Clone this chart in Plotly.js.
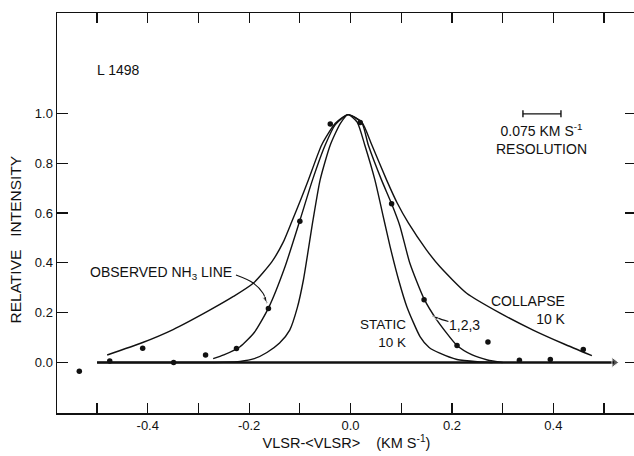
<!DOCTYPE html>
<html>
<head>
<meta charset="utf-8">
<script src="https://cdn.plot.ly/plotly-3.0.1.min.js"></script>
<style>
html,body{margin:0;padding:0;background:#fff;overflow:hidden;}
#chart{width:640px;height:456px;}
</style>
</head>
<body>
<div id="chart"></div>
<script>
// ---- data ----
const collapseX = [-0.48, -0.41, -0.35, -0.284, -0.231, -0.192, -0.155, -0.133, -0.116, -0.097, -0.083, -0.057, -0.03, -0.005, 0.022, 0.042, 0.071, 0.092, 0.114, 0.15, 0.176, 0.229, 0.295, 0.36, 0.42, 0.476];
const collapseY = [0.03, 0.08, 0.132, 0.203, 0.265, 0.318, 0.405, 0.482, 0.565, 0.66, 0.733, 0.873, 0.96, 0.995, 0.965, 0.873, 0.733, 0.64, 0.56, 0.451, 0.385, 0.278, 0.198, 0.13, 0.075, 0.027];

const observedX = [-0.271, -0.25, -0.218, -0.19, -0.162, -0.13, -0.1, -0.075, -0.05, -0.03, -0.005, 0.022, 0.035, 0.061, 0.081, 0.097, 0.117, 0.145, 0.17, 0.21, 0.24, 0.27, 0.3];
const observedY = [0.015, 0.03, 0.063, 0.12, 0.218, 0.38, 0.57, 0.733, 0.873, 0.955, 0.995, 0.963, 0.873, 0.733, 0.637, 0.55, 0.398, 0.255, 0.171, 0.068, 0.03, 0.01, 0.0];

const staticX = [-0.5, -0.3, -0.25, -0.218, -0.19, -0.165, -0.14, -0.12, -0.105, -0.093, -0.074, -0.06, -0.04, -0.02, -0.005, 0.013, 0.028, 0.048, 0.066, 0.078, 0.095, 0.111, 0.137, 0.155, 0.176, 0.21, 0.25, 0.28];
const staticY = [0.0, 0.0, 0.001, 0.004, 0.015, 0.04, 0.078, 0.13, 0.22, 0.331, 0.572, 0.733, 0.873, 0.96, 0.995, 0.965, 0.873, 0.733, 0.572, 0.465, 0.33, 0.224, 0.104, 0.06, 0.037, 0.012, 0.003, 0.0];

const baselineX = [-0.5, 0.52];
const baselineY = [0, 0];

const pointsX = [-0.535, -0.475, -0.41, -0.349, -0.286, -0.225, -0.162, -0.1, -0.04, 0.019, 0.081, 0.145, 0.21, 0.271, 0.333, 0.394, 0.459];
const pointsY = [-0.035, 0.006, 0.057, 0.0, 0.03, 0.056, 0.217, 0.567, 0.957, 0.963, 0.637, 0.252, 0.068, 0.082, 0.009, 0.012, 0.052];

const resolutionBarX = [0.34, 0.415];
const resolutionBarY = [0.998, 0.998];

const observedLeaderX = [-0.226, -0.192, -0.173, -0.165];
const observedLeaderY = [0.351, 0.319, 0.279, 0.238];

const modelLeaderX = [0.193, 0.172, 0.162];
const modelLeaderY = [0.164, 0.178, 0.186];

const xTickVals = [-0.4, -0.2, 0.0, 0.2, 0.4];
const xTickText = ['-0.4', '-0.2', '0.0', '0.2', '0.4'];
const xMinorTickVals = [-0.5, -0.4, -0.3, -0.2, -0.1, 0.0, 0.1, 0.2, 0.3, 0.4, 0.5];
const yTickVals = [0.0, 0.2, 0.4, 0.6, 0.8, 1.0];
const yTickText = ['0.0', '0.2', '0.4', '0.6', '0.8', '1.0'];

// ---- chart ----
const ink = '#111';
const FONT = 'Liberation Sans, Arial, sans-serif';
const lineStyle = {color: ink, width: 1.4, shape: 'spline', smoothing: 0.6};

const traces = [
  {x: collapseX, y: collapseY, mode: 'lines', line: lineStyle, hoverinfo: 'skip'},
  {x: observedX, y: observedY, mode: 'lines', line: lineStyle, hoverinfo: 'skip'},
  {x: staticX, y: staticY, mode: 'lines', line: lineStyle, hoverinfo: 'skip'},
  {x: baselineX, y: baselineY, mode: 'lines+markers', line: {color: ink, width: 2.4},
   marker: {symbol: ['circle', 'triangle-right'], size: [0, 9], color: ink}, hoverinfo: 'skip'},
  {x: pointsX, y: pointsY, mode: 'markers', marker: {symbol: 'circle', size: 5.5, color: ink}},
  {x: resolutionBarX, y: resolutionBarY, mode: 'lines+markers', line: {color: ink, width: 1.4},
   marker: {symbol: 'line-ns', size: 5, color: ink, line: {color: ink, width: 1.4}}, hoverinfo: 'skip'},
  {x: observedLeaderX, y: observedLeaderY, mode: 'lines+markers', line: {color: ink, width: 1.1, shape: 'spline'},
   marker: {symbol: 'arrow', angleref: 'previous', size: [0, 0, 0, 7], color: ink}, hoverinfo: 'skip'},
  {x: modelLeaderX, y: modelLeaderY, mode: 'lines+markers', line: {color: ink, width: 1.1, shape: 'spline'},
   marker: {symbol: 'arrow', angleref: 'previous', size: [0, 0, 6], color: ink}, hoverinfo: 'skip'}
];

const txt = {family: FONT, size: 14, color: ink};

const layout = {
  width: 640, height: 456,
  margin: {l: 57, r: 4, t: 13, b: 43},
  paper_bgcolor: '#fff', plot_bgcolor: '#fff',
  showlegend: false,
  font: {family: FONT, size: 12, color: ink},
  xaxis: {
    range: [-0.579, 0.563],
    tickmode: 'array', tickvals: xTickVals, ticktext: xTickText,
    ticks: 'inside', ticklen: 10, tickwidth: 1.2, tickcolor: ink,
    minor: {tickmode: 'array', tickvals: xMinorTickVals, ticks: 'inside', ticklen: 10, tickwidth: 1.2, tickcolor: ink, showgrid: false},
    showline: true, linecolor: ink, linewidth: 1.5, mirror: 'ticks',
    showgrid: false, zeroline: false,
    tickfont: {family: FONT, size: 13, color: ink},
    title: {text: 'VLSR-&lt;VLSR&gt;&nbsp;&nbsp;&nbsp;&nbsp;(KM S<sup>-1</sup>)', font: {family: FONT, size: 14.5, color: ink}, standoff: 6}
  },
  yaxis: {
    range: [-0.203, 1.403],
    tickvals: yTickVals, ticktext: yTickText,
    ticks: 'inside', ticklen: 11, tickwidth: 1.2, tickcolor: ink,
    showline: true, linecolor: ink, linewidth: 1.5, mirror: 'ticks',
    showgrid: false, zeroline: false,
    tickfont: {family: FONT, size: 13, color: ink}
  },
  annotations: [
    {xref: 'paper', yref: 'paper', x: -0.07, y: 0.435, text: 'RELATIVE&nbsp;&nbsp;&nbsp;INTENSITY', textangle: -90,
     showarrow: false, font: {family: FONT, size: 15.5, color: ink}, xanchor: 'center', yanchor: 'middle'},
    {x: -0.457, y: 1.175, text: 'L 1498', showarrow: false, font: txt},
    {x: 0.376, y: 0.897, text: '0.075 KM S<sup>-1</sup><br>RESOLUTION', showarrow: false, font: txt, align: 'center'},
    {x: -0.374, y: 0.36, text: 'OBSERVED NH<sub>3</sub> LINE', showarrow: false, font: txt},
    {x: 0.113, y: 0.118, text: 'STATIC<br>10 K', showarrow: false, font: {family: FONT, size: 13.5, color: ink}, xanchor: 'right', align: 'right'},
    {x: 0.19, y: 0.15, text: '1,2,3', showarrow: false, font: txt, xanchor: 'left'},
    {x: 0.428, y: 0.211, text: 'COLLAPSE<br>10 K', showarrow: false, font: txt, xanchor: 'right', align: 'right'}
  ]
};

Plotly.newPlot('chart', traces, layout, {displayModeBar: false, staticPlot: true});
</script>
</body>
</html>
